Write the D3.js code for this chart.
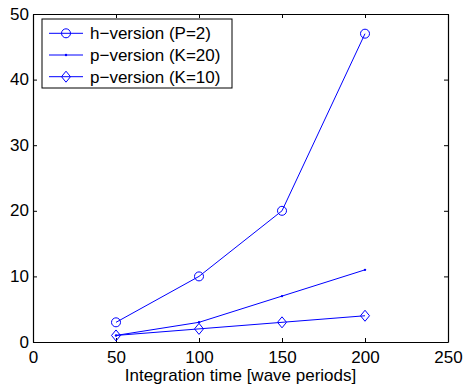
<!DOCTYPE html>
<html>
<head>
<meta charset="utf-8">
<script src="https://cdn.jsdelivr.net/npm/d3@7"></script>
<style>
  body { margin: 0; background: #fff; }
  text { font-family: "Liberation Sans", Arial, Helvetica, sans-serif; }
  .axis path, .axis line { stroke: #000; }
</style>
</head>
<body>
<script>
// data
var times = [50, 100, 150, 200];
var hVersionP2 = [3, 10, 20, 47];
var pVersionK20 = [1, 3, 7, 11];
var pVersionK10 = [1, 2, 3, 4];
var xTicks = [0, 50, 100, 150, 200, 250];
var yTicks = [0, 10, 20, 30, 40, 50];
var seriesNames = ["h\u2212version (P=2)", "p\u2212version (K=20)", "p\u2212version (K=10)"];

var margin = {top: 14, right: 17, bottom: 42, left: 33},
    width = 465 - margin.left - margin.right,
    height = 384 - margin.top - margin.bottom;

var fontSize = 17;

var svg = d3.select("body").append("svg")
    .attr("width", 465)
    .attr("height", 384)
  .append("g")
    .attr("transform", "translate(" + margin.left + "," + margin.top + ")");

var x = d3.scaleLinear().domain([0, 250]).range([0, width]);
var y = d3.scaleLinear().domain([0, 50]).range([height, 0]);

var blue = "#0000ff";

// axes, matlab style: ticks inside, box all round
svg.append("g")
    .attr("class", "axis")
    .attr("transform", "translate(0," + height + ")")
    .call(d3.axisBottom(x).tickValues(xTicks).tickSize(-4).tickPadding(9).tickSizeOuter(0))
    .call(function(g) { g.selectAll("text").attr("font-size", fontSize).attr("dy", "0.71em"); });

svg.append("g")
    .attr("class", "axis")
    .call(d3.axisLeft(y).tickValues(yTicks).tickSize(-4).tickPadding(4).tickSizeOuter(0))
    .call(function(g) { g.selectAll("text").attr("font-size", fontSize).attr("dy", "0.3em"); });

svg.append("g")
    .attr("class", "axis")
    .call(d3.axisTop(x).tickValues(xTicks).tickSize(-4).tickFormat("").tickSizeOuter(0));

svg.append("g")
    .attr("class", "axis")
    .attr("transform", "translate(" + width + ",0)")
    .call(d3.axisRight(y).tickValues(yTicks).tickSize(-4).tickFormat("").tickSizeOuter(0));

svg.selectAll(".axis path").attr("stroke-width", 1.2);

// x label
svg.append("text")
    .attr("x", width / 2)
    .attr("y", height + 39)
    .attr("text-anchor", "middle")
    .attr("font-size", fontSize)
    .text("Integration time [wave periods]");

var line = d3.line()
    .x(function(d, i) { return x(times[i]); })
    .y(function(d) { return y(d); });

function drawMarker(g, kind, cx, cy) {
  if (kind === "circle") {
    g.append("circle").attr("cx", cx).attr("cy", cy).attr("r", 4.5)
      .attr("fill", "none").attr("stroke", blue).attr("stroke-width", 1);
  } else if (kind === "dot") {
    g.append("circle").attr("cx", cx).attr("cy", cy).attr("r", 1.2)
      .attr("fill", blue);
  } else {
    g.append("path")
      .attr("d", "M" + cx + "," + (cy - 5.5) + "L" + (cx + 4.5) + "," + cy +
                 "L" + cx + "," + (cy + 5.5) + "L" + (cx - 4.5) + "," + cy + "Z")
      .attr("fill", "none").attr("stroke", blue).attr("stroke-width", 1);
  }
}

var series = [
  {name: seriesNames[0], values: hVersionP2, marker: "circle"},
  {name: seriesNames[1], values: pVersionK20, marker: "dot"},
  {name: seriesNames[2], values: pVersionK10, marker: "diamond"}
];

series.forEach(function(s) {
  var g = svg.append("g");
  g.append("path")
    .attr("d", line(s.values))
    .attr("fill", "none")
    .attr("stroke", blue)
    .attr("stroke-width", 1);
  s.values.forEach(function(v, i) {
    drawMarker(g, s.marker, x(times[i]), y(v));
  });
});

// legend
var legend = svg.append("g").attr("transform", "translate(9,5)");
legend.append("rect")
    .attr("width", 190)
    .attr("height", 69)
    .attr("fill", "#fff")
    .attr("stroke", "#000")
    .attr("stroke-width", 1);

series.forEach(function(s, i) {
  var cy = 14.3 + i * 21.7;
  legend.append("line")
    .attr("x1", 7).attr("x2", 41)
    .attr("y1", cy).attr("y2", cy)
    .attr("stroke", blue).attr("stroke-width", 1);
  drawMarker(legend, s.marker, 24, cy);
  legend.append("text")
    .attr("x", 48)
    .attr("y", cy)
    .attr("dy", "0.35em")
    .attr("font-size", fontSize)
    .text(s.name);
});
</script>
</body>
</html>
